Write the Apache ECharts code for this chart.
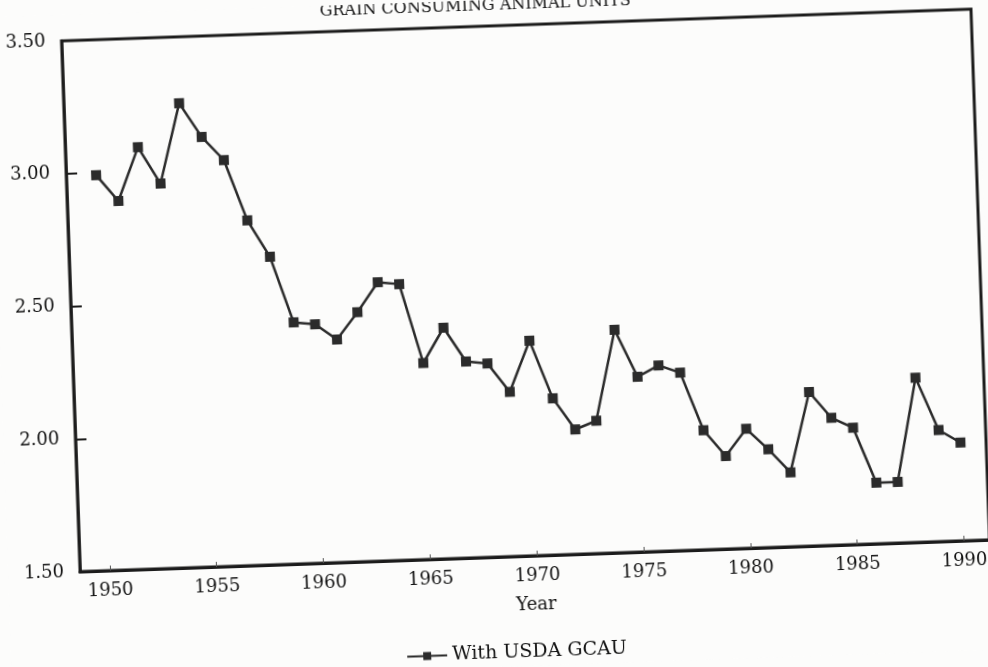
<!DOCTYPE html>
<html>
<head>
<meta charset="utf-8">
<script src="https://cdn.jsdelivr.net/npm/echarts@6/dist/echarts.min.js"></script>
<style>
  html, body { margin: 0; padding: 0; background: #fcfcfb; overflow: hidden; }
  #chart { width: 988px; height: 667px; transform: rotate(-2deg); transform-origin: 494px 333.5px; }
</style>
</head>
<body>
<div id="chart"></div>
<script>
// Years (x) and values (y)
const years = [1950,1951,1952,1953,1954,1955,1956,1957,1958,1959,
               1960,1961,1962,1963,1964,1965,1966,1967,1968,1969,
               1970,1971,1972,1973,1974,1975,1976,1977,1978,1979,
               1980,1981,1982,1983,1984,1985,1986,1987,1988,1989,1990];
const gcau  = [2.99,2.89,3.09,2.95,3.25,3.12,3.03,2.80,2.66,2.41,
               2.40,2.34,2.44,2.55,2.54,2.24,2.37,2.24,2.23,2.12,
               2.31,2.09,1.97,2.00,2.34,2.16,2.20,2.17,1.95,1.85,
               1.95,1.87,1.78,2.08,1.98,1.94,1.73,1.73,2.12,1.92,1.87];
const xTicks = [1950,1955,1960,1965,1970,1975,1980,1985,1990];
const seriesName = 'With USDA GCAU';
const titleText = 'GRAIN CONSUMING ANIMAL UNITS';

const FONT = 'DejaVu Serif';
const INK = '#111';

const chart = echarts.init(document.getElementById('chart'), null, { renderer: 'canvas' });
chart.setOption({
  backgroundColor: '#fcfcfb',
  animation: false,
  title: {
    text: titleText,
    left: 326,
    top: -7,
    textStyle: { fontFamily: FONT, fontSize: 16, fontWeight: 'normal', color: INK }
  },
  grid: {
    left: 72, right: 6, top: 26, bottom: 110,
    show: true, borderColor: '#1c1c1c', borderWidth: 3, backgroundColor: 'transparent'
  },
  legend: {
    data: [seriesName],
    left: 390,
    top: 639,
    itemWidth: 40,
    itemHeight: 10,
    textStyle: { fontFamily: FONT, fontSize: 19, color: INK }
  },
  xAxis: {
    type: 'value',
    min: 1948.6,
    max: 1991.2,
    name: 'Year',
    nameLocation: 'middle',
    nameGap: 40,
    nameTextStyle: { fontFamily: FONT, fontSize: 18, color: INK },
    splitLine: { show: false },
    axisLine: { show: true, lineStyle: { color: '#1c1c1c', width: 3 } },
    axisTick: { show: true, inside: true, length: 5, customValues: xTicks, lineStyle: { color: '#555', width: 1 } },
    axisLabel: {
      customValues: xTicks,
      margin: 11,
      fontFamily: FONT, fontSize: 18, color: INK,
      formatter: v => String(Math.round(v))
    }
  },
  yAxis: {
    type: 'value',
    min: 1.5,
    max: 3.5,
    interval: 0.5,
    splitLine: { show: false },
    axisLine: { show: true, lineStyle: { color: '#1c1c1c', width: 2.5 } },
    axisTick: { show: true, inside: true, length: 11, lineStyle: { color: '#1c1c1c', width: 2 } },
    axisLabel: {
      margin: 16,
      fontFamily: FONT, fontSize: 18, color: INK,
      formatter: v => v.toFixed(2)
    }
  },
  series: [{
    name: seriesName,
    type: 'line',
    data: years.map((y, i) => [y, gcau[i]]),
    symbol: 'rect',
    symbolSize: 10,
    lineStyle: { color: '#2b2b2b', width: 2.5 },
    itemStyle: { color: '#2b2b2b' }
  }]
});
</script>
</body>
</html>
